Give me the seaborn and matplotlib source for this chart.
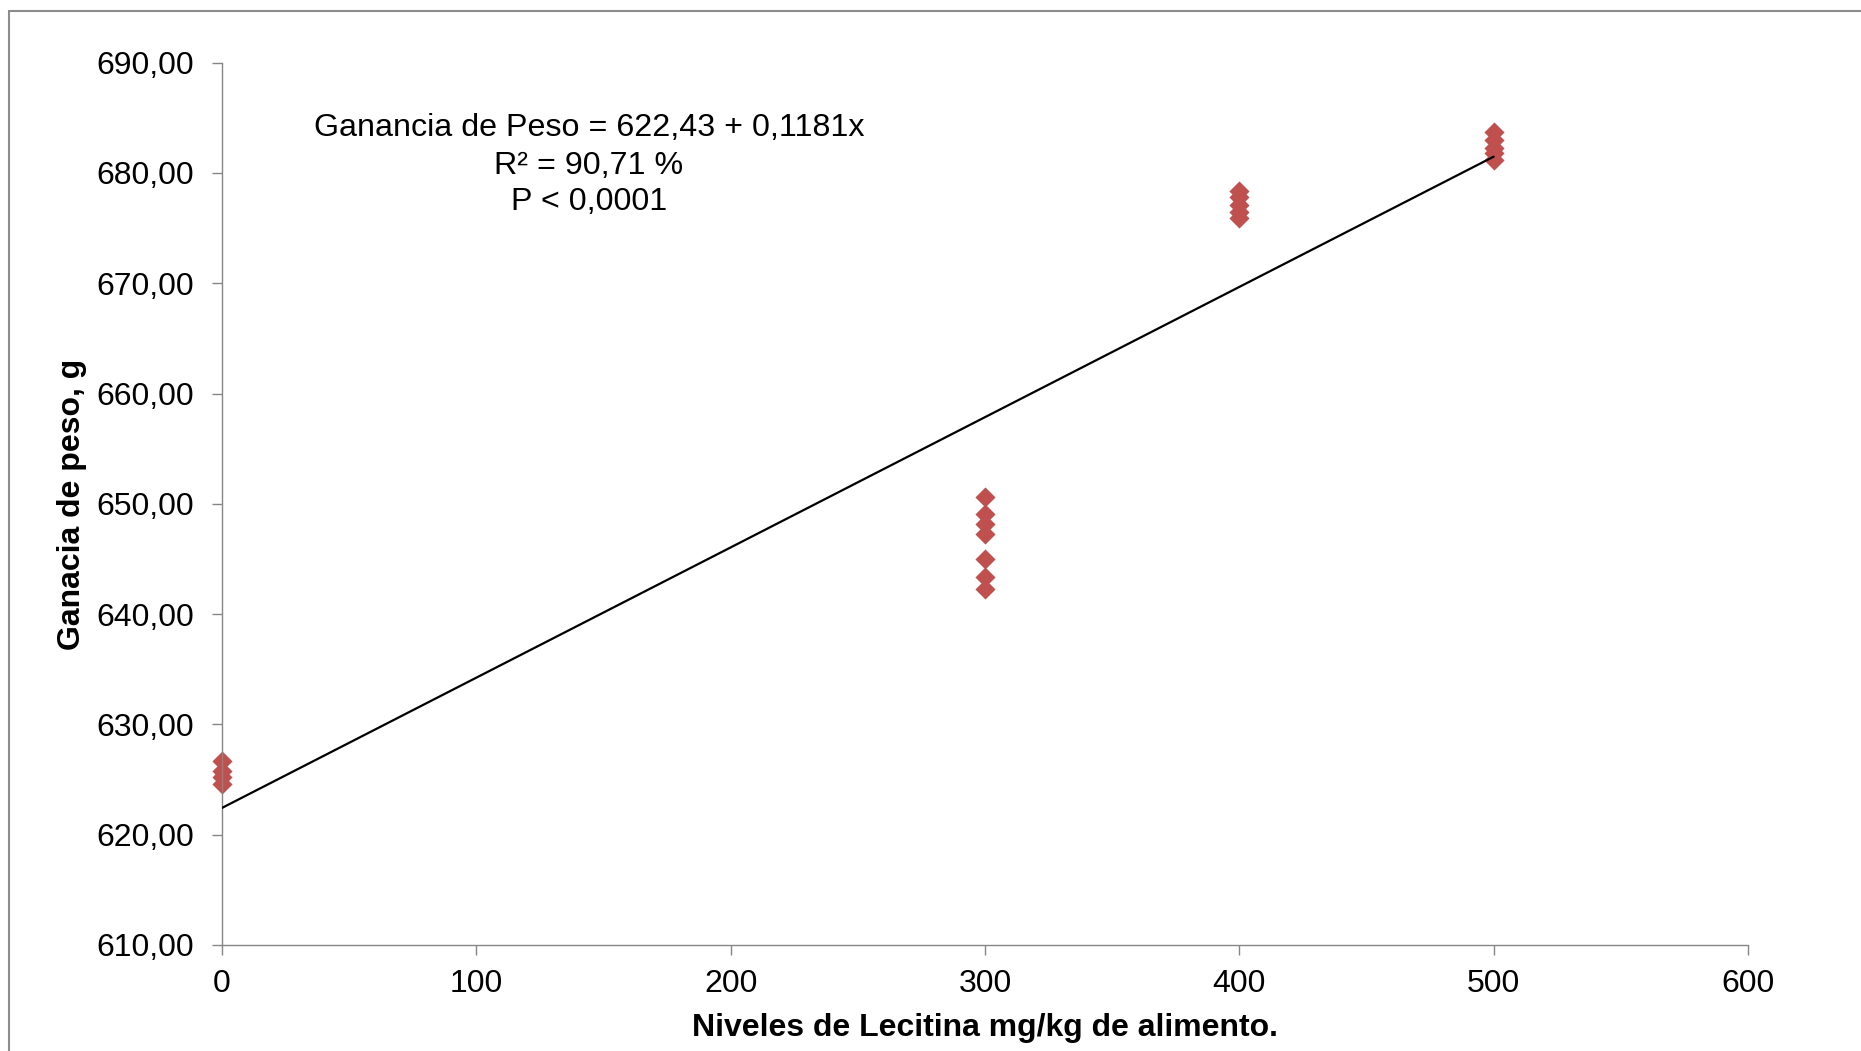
import matplotlib
matplotlib.use("Agg")
import matplotlib.pyplot as plt
from matplotlib.patches import Rectangle
from matplotlib.ticker import FuncFormatter, MultipleLocator
import numpy as np
import pandas as pd
import seaborn as sns

# Weight gain per replicate at each lecithin level
nivel = [0, 0, 0, 0,
         300, 300, 300, 300, 300, 300, 300,
         400, 400, 400, 400, 400,
         500, 500, 500, 500, 500]
ganancia = [626.7, 625.8, 625.2, 624.6,
            650.6, 649.1, 648.2, 647.3, 645.0, 643.4, 642.3,
            678.4, 677.8, 677.1, 676.5, 675.9,
            683.7, 683.0, 682.3, 681.8, 681.2]

# Fitted linear model
intercepto = 622.43
pendiente = 0.1181
rango_ajuste = [0, 500]

ecuacion = "Ganancia de Peso = 622,43 + 0,1181x"
r2_texto = "R² = 90,71 %"
p_texto = "P < 0,0001"

x_ticks = [0, 100, 200, 300, 400, 500, 600]

sns.set_theme(style="white")
plt.rcParams["font.family"] = ["Liberation Sans", "DejaVu Sans"]
plt.rcParams["text.color"] = "black"

W, H = 1861, 1051
FS = 23
fig = plt.figure(figsize=(W / 100, H / 100), dpi=100)
ax = fig.add_axes([222 / W, 1 - 945 / H, 1526 / W, 882.3 / H])

df = pd.DataFrame({"nivel": nivel, "ganancia": ganancia})
ajuste = pd.DataFrame({"nivel": rango_ajuste})
ajuste["ganancia"] = intercepto + pendiente * ajuste["nivel"]

sns.lineplot(data=ajuste, x="nivel", y="ganancia", ax=ax, color="black",
             linewidth=1.6, zorder=3)
sns.scatterplot(data=df, x="nivel", y="ganancia", ax=ax, marker="D", s=105,
                color="#C0504D", edgecolor="#C0504D", linewidth=0, zorder=2,
                clip_on=False)

ax.set_xlim(0, 600)
ax.set_ylim(610, 690)
ax.set_xticks(x_ticks)
ax.yaxis.set_major_locator(MultipleLocator(10))
ax.yaxis.set_major_formatter(FuncFormatter(lambda v, _: f"{v:.2f}".replace(".", ",")))

gris = "#868686"
for side in ["top", "right"]:
    ax.spines[side].set_visible(False)
for side in ["left", "bottom"]:
    ax.spines[side].set_color(gris)
    ax.spines[side].set_linewidth(1.0)

ax.tick_params(axis="both", which="major", direction="out", length=7, width=1.0,
               color=gris, labelsize=FS, labelcolor="black")
ax.tick_params(axis="x", pad=10)
ax.tick_params(axis="y", pad=13)
ax.tick_params(left=True, bottom=True)
ax.set_xlabel("")
ax.set_ylabel("")
ax.grid(False)

fig.text(72 / W, 1 - 504 / H, "Ganacia de peso, g", rotation=90, ha="center",
         va="center", fontsize=FS, fontweight="bold", color="black")
fig.text(985 / W, 1 - 1028 / H, "Niveles de Lecitina mg/kg de alimento.",
         ha="center", va="center", fontsize=FS, fontweight="bold", color="black")

for texto, yb in [(ecuacion, 136), (r2_texto, 174), (p_texto, 209.5)]:
    fig.text(589 / W, 1 - yb / H, texto, ha="center", va="baseline",
             fontsize=FS + 0.2, color="black")

fig.patches.append(Rectangle((8.5 / W, -0.1), 1.2, 1 - 11 / H + 0.1,
                             transform=fig.transFigure, fill=False,
                             edgecolor="#8c8c8c", linewidth=1.5))

fig.savefig("out.png", dpi=100)
